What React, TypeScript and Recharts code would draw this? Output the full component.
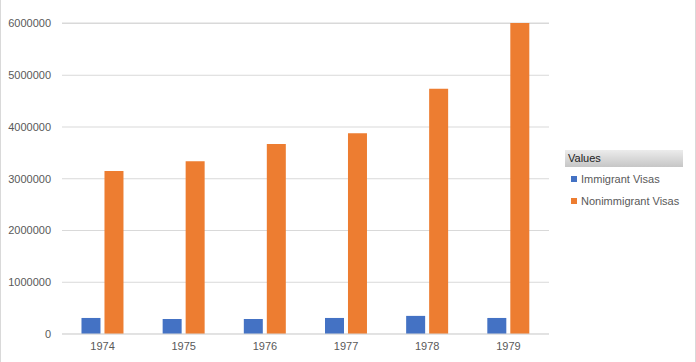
import { BarChart, Bar, XAxis, YAxis, CartesianGrid } from "recharts";

const years = ["1974", "1975", "1976", "1977", "1978", "1979"];
const immigrantVisas = [310000, 290000, 290000, 310000, 350000, 310000];
const nonimmigrantVisas = [3150000, 3340000, 3670000, 3880000, 4740000, 6010000];
const yTicks = [0, 1000000, 2000000, 3000000, 4000000, 5000000, 6000000];

const seriesNames = ["Immigrant Visas", "Nonimmigrant Visas"];
const seriesColors = ["#4472C4", "#ED7D31"];

const data = years.map((year, i) => ({
    year,
    immigrant: immigrantVisas[i],
    nonimmigrant: nonimmigrantVisas[i],
}));

const FONT = "'Liberation Sans', Arial, sans-serif";

// "Values" legend box on the right, like the pivot chart field list
const ValuesLegend = () => (
    <div
        style={{
            position: "absolute",
            left: 565,
            top: 150,
            width: 118,
            fontFamily: FONT,
            fontSize: 11,
            color: "#595959",
        }}
    >
        <div
            style={{
                height: 17,
                lineHeight: "17px",
                paddingLeft: 3,
                color: "#222",
                background: "linear-gradient(#ececec, #c6c6c6)",
            }}
        >
            Values
        </div>
        {seriesNames.map((name, i) => (
            <div
                key={name}
                style={{ display: "flex", alignItems: "center", height: 22, paddingLeft: 6, marginTop: i === 0 ? 1 : 0 }}
            >
                <span style={{ width: 6, height: 6, background: seriesColors[i], marginRight: 4 }} />
                <span>{name}</span>
            </div>
        ))}
    </div>
);

const App = () => {
    return (
        <div style={{ position: "absolute", left: 0, top: 0, width: 696, height: 362, background: "#fff" }}>
            <BarChart
                width={696}
                height={362}
                data={data}
                margin={{ top: 23, right: 147, left: 0, bottom: 0 }}
                barCategoryGap="24%"
                barGap={4}
            >
                <CartesianGrid vertical={false} stroke="#d9d9d9" />
                <XAxis
                    dataKey="year"
                    height={28}
                    axisLine={{ stroke: "#d9d9d9" }}
                    tickLine={false}
                    tickSize={0}
                    tickMargin={8}
                    tick={{ fontSize: 11, fill: "#595959", fontFamily: FONT }}
                />
                <YAxis
                    width={62}
                    domain={[0, 6000000]}
                    ticks={yTicks}
                    axisLine={false}
                    tickLine={false}
                    tickSize={0}
                    tickMargin={11}
                    tick={{ fontSize: 11, fill: "#595959", fontFamily: FONT }}
                />
                <Bar dataKey="immigrant" name={seriesNames[0]} fill={seriesColors[0]} isAnimationActive={false} />
                <Bar dataKey="nonimmigrant" name={seriesNames[1]} fill={seriesColors[1]} isAnimationActive={false} />
            </BarChart>
            <ValuesLegend />
            <div style={{ position: "absolute", left: 0, top: 0, width: 1, height: 362, background: "#d9d9d9" }} />
            <div style={{ position: "absolute", left: 695, top: 0, width: 1, height: 362, background: "#d9d9d9" }} />
        </div>
    );
};

export default App;
